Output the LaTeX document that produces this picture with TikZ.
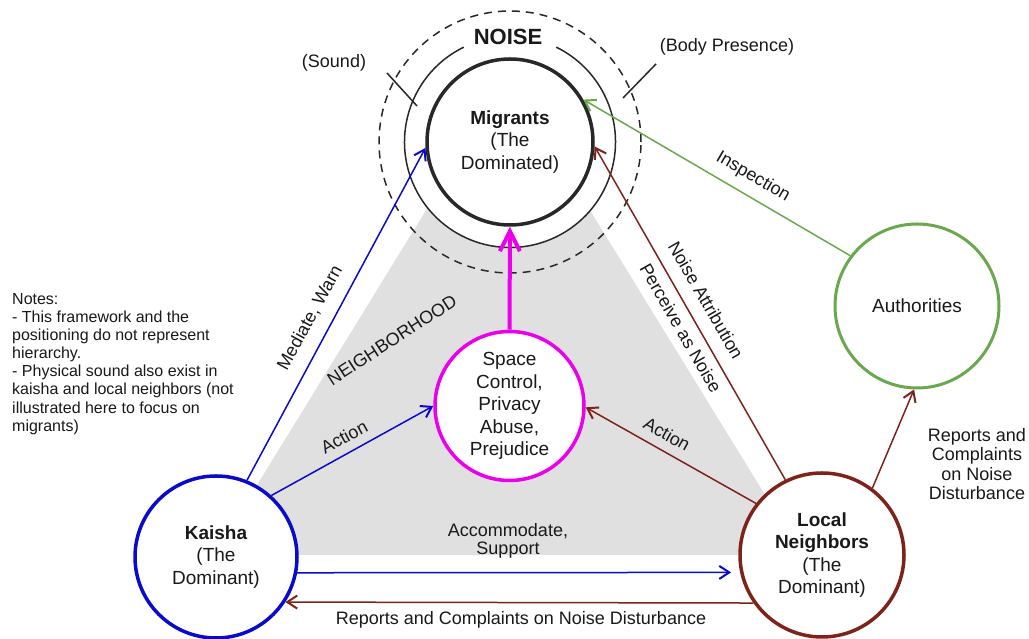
\documentclass[tikz,border=0pt]{standalone}
\usepackage{fontspec}
\setmainfont{Liberation Sans}
\usetikzlibrary{arrows.meta}

\definecolor{kblue}{RGB}{10,10,205}
\definecolor{nred}{RGB}{125,35,25}
\definecolor{agreen}{RGB}{106,168,79}
\definecolor{smag}{RGB}{235,0,235}
\definecolor{hood}{RGB}{224,224,224}
\definecolor{ink}{RGB}{40,40,40}
\definecolor{txt}{RGB}{25,25,25}

\tikzset{
  actor/.style={circle, draw, fill=white, inner sep=0pt, align=center,
    line width=3.5pt, text=txt, font=\fontsize{19}{22.5}\selectfont},
  lbl/.style={inner sep=0pt, align=center, text=txt, font=\fontsize{18}{18}\selectfont},
  link/.style={line width=1.5pt, -{Straight Barb[length=10pt,width=13pt,line width=2pt]}},
  ring/.style={ink, line width=1.5pt},
}

\begin{document}
\begin{tikzpicture}[x=1pt,y=1pt]
\useasboundingbox (0,0) rectangle (1029,639);
\fill[white] (0,0) rectangle (1029,639);

% neighbourhood area
\fill[hood] (214,84) -- (508,562) -- (802,84) -- cycle;

% noise rings around the migrants
\coordinate (mc) at (510,497);
\fill[white] (mc) circle[radius=105.5];
\draw[ring] (mc) ++(116:105.5) arc[start angle=116, end angle=424, radius=105.5];
\draw[ring, dash pattern=on 8pt off 6pt] (mc) circle[radius=131];
\draw[ring] (387,566) -- (417,533);
\draw[ring] (656,575) -- (623,541);

% actors
\node[actor, draw=ink, minimum size=166pt] (M) at (510,497) {\textbf{Migrants}\\(The\\Dominated)};
\node[actor, draw=kblue, minimum size=162pt] (K) at (216,82) {\textbf{Kaisha}\\(The\\Dominant)};
\node[actor, draw=nred, minimum size=164pt] (L) at (822,84) {\textbf{Local}\\\textbf{Neighbors}\\(The\\Dominant)};
\node[actor, draw=agreen, line width=3pt, minimum size=164pt] (A) at (917,333) {Authorities};
\node[actor, draw=smag, minimum size=149pt] (S) at (509.5,233) {Space\\Control,\\Privacy\\Abuse,\\Prejudice};

% relations
\draw[link, kblue] (K.68.8) -- (M.184);
\draw[link, kblue] (K.48) -- (S.180);
\draw[link, kblue, shorten >=9pt] (K.-11.4) -- (L.192.7);
\draw[link, nred] (L.215) -- (K.-33.7);
\draw[link, nred] (L.116) -- (M.-3.5);
\draw[link, nred] (L.142) -- (S.-1);
\draw[link, nred] (L.53.5) -- (A.268.6);
\draw[link, agreen] (A.143.5) -- (M.30);
\draw[smag, line width=4pt, -{Straight Barb[length=20pt,width=20pt,line width=4pt]}] (S.north) -- (M.south);

% labels
\node[lbl, rotate=61.3] (lmed) at (310,321) {Mediate, Warn};
\node[lbl, rotate=28.3] (lact1) at (344,202) {Action};
\node[lbl, rotate=33] (lhood) at (392,299) {NEIGHBORHOOD};
\node[lbl, rotate=-60] (lattr) at (706,339) {Noise Attribution};
\node[lbl, rotate=-60] (lperc) at (681,311) {Perceive as Noise};
\node[lbl, rotate=-29.2] (lact2) at (667,205) {Action};
\node[lbl, rotate=-30.3] (linsp) at (753,462) {Inspection};
\node[lbl, font=\fontsize{18}{19.5}\selectfont] (lrep1) at (977,175) {Reports and\\Complaints\\on Noise\\Disturbance};
\node[lbl] (lacc) at (508,98) {Accommodate,\\Support};
\node[lbl] (lrep2) at (521,19) {Reports and Complaints on Noise Disturbance};
\node[lbl] (lsound) at (334,576) {(Sound)};
\node[lbl] (lbody) at (727,592) {(Body Presence)};
\node[inner sep=0pt, text=txt, font=\fontsize{22}{22}\selectfont\bfseries] (lnoise) at (508,602) {NOISE};
\node[anchor=west, align=left, inner sep=0pt, text=txt, font=\fontsize{16}{18.1}\selectfont] (notes) at (12,275)
  {Notes:\\- This framework and the\\positioning do not represent\\hierarchy.\\- Physical sound also exist in\\kaisha and local neighbors (not\\illustrated here to focus on\\migrants)};
\end{tikzpicture}
\end{document}
